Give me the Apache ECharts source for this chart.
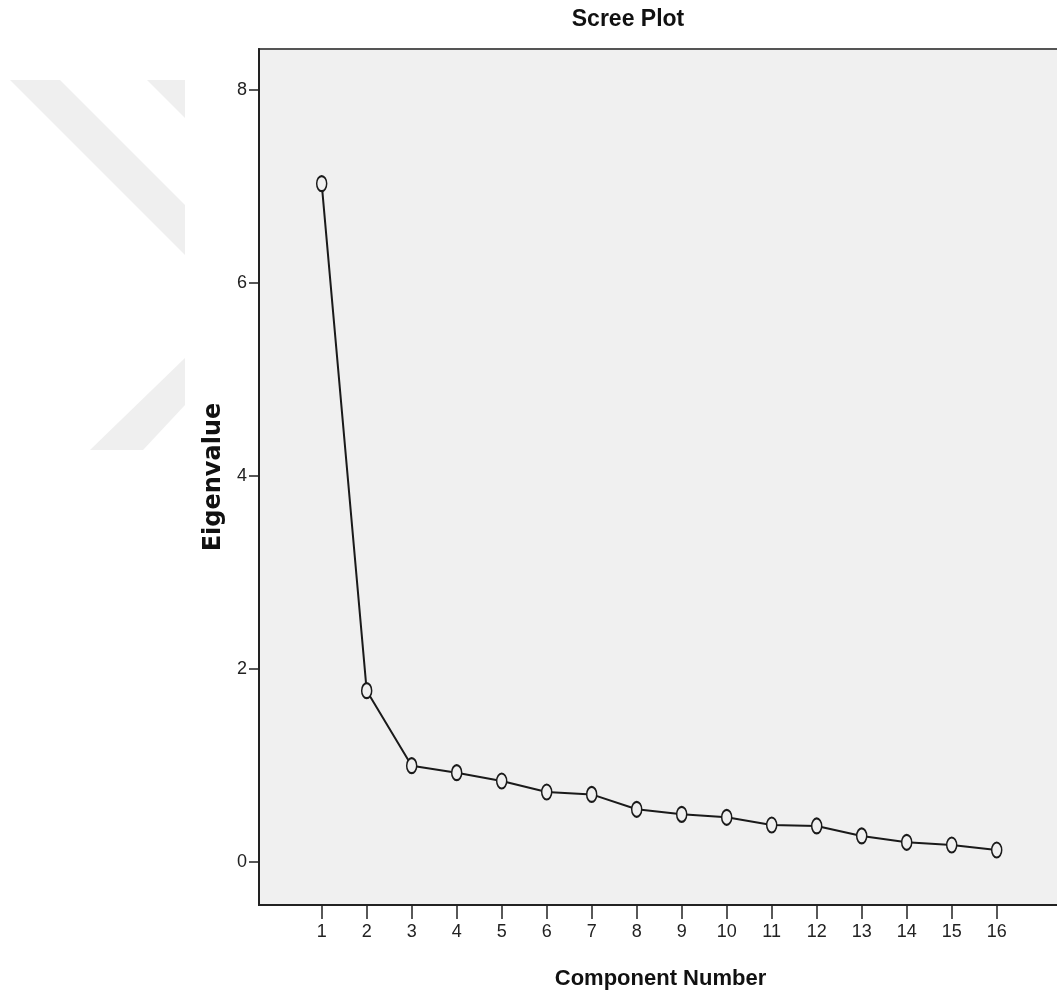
<!DOCTYPE html>
<html>
<head>
<meta charset="utf-8">
<title>Scree Plot</title>
<script src="https://cdn.jsdelivr.net/npm/echarts@6/dist/echarts.min.js"></script>
<style>
  html, body { margin: 0; padding: 0; background: #fff; }
  #chart { width: 1057px; height: 1003px; }
</style>
</head>
<body>
<div id="chart"></div>
<script>
// component numbers and eigenvalues
var components = [1, 2, 3, 4, 5, 6, 7, 8, 9, 10, 11, 12, 13, 14, 15, 16];
var eigenvalues = [7.03, 1.775, 0.998, 0.925, 0.839, 0.725, 0.70, 0.546, 0.494, 0.463, 0.383, 0.373, 0.27, 0.204, 0.176, 0.124];
var yTicks = [0, 2, 4, 6, 8];

var narrow = "'Liberation Sans Narrow', 'Arial Narrow', 'Liberation Sans', sans-serif";

var points = [];
for (var i = 0; i < components.length; i++) {
  points.push([components[i], eigenvalues[i]]);
}

var chart = echarts.init(document.getElementById('chart'), null, { renderer: 'canvas' });

var option = {
  backgroundColor: '#ffffff',
  animation: false,
  // faint watermark behind the plot
  graphic: [
    { type: 'polygon', z: -10, shape: { points: [[10, 80], [60, 80], [185, 205], [185, 255]] }, style: { fill: '#efefef' } },
    { type: 'polygon', z: -10, shape: { points: [[147, 80], [185, 80], [185, 118]] }, style: { fill: '#efefef' } },
    { type: 'polygon', z: -10, shape: { points: [[90, 450], [143, 450], [185, 405], [185, 358]] }, style: { fill: '#efefef' } }
  ],
  title: {
    text: 'Scree Plot',
    left: 628,
    top: 8,
    textAlign: 'center',
    padding: 0,
    textStyle: { fontFamily: narrow, fontWeight: 'bold', fontSize: 23, color: '#111' }
  },
  grid: {
    left: 259,
    top: 49,
    width: 803,
    height: 856,
    outerBoundsMode: 'none',
    show: true,
    backgroundColor: '#f0f0f0',
    borderColor: '#555',
    borderWidth: 2
  },
  xAxis: {
    type: 'value',
    min: -0.393,
    max: 17.451,
    name: 'Component Number',
    nameLocation: 'middle',
    nameGap: 63,
    nameTextStyle: { fontFamily: narrow, fontWeight: 'bold', fontSize: 22, color: '#111' },
    splitLine: { show: false },
    axisLine: { show: true, onZero: false, lineStyle: { color: '#222', width: 2 } },
    axisTick: { show: true, length: 14, customValues: components, lineStyle: { color: '#222', width: 1.5 } },
    axisLabel: { customValues: components, margin: 18, fontFamily: narrow, fontSize: 18, color: '#222' }
  },
  yAxis: {
    type: 'value',
    min: -0.446,
    max: 8.425,
    name: 'Eigenvalue',
    nameLocation: 'middle',
    nameGap: 32,
    nameRotate: 90,
    nameTextStyle: { fontFamily: "'DejaVu Sans', sans-serif", fontWeight: 'bold', fontSize: 24, color: '#111' },
    splitLine: { show: false },
    axisLine: { show: true, onZero: false, lineStyle: { color: '#222', width: 2 } },
    axisTick: { show: true, length: 10, customValues: yTicks, lineStyle: { color: '#222', width: 1.5 } },
    axisLabel: { customValues: yTicks, margin: 12, fontFamily: narrow, fontSize: 18, color: '#222' }
  },
  series: [
    {
      type: 'line',
      data: points,
      symbol: 'circle',
      symbolSize: [10, 15],
      showAllSymbol: true,
      lineStyle: { color: '#1a1a1a', width: 2 },
      itemStyle: { color: '#f0f0f0', borderColor: '#1a1a1a', borderWidth: 1.8 }
    }
  ]
};

chart.setOption(option);
</script>
</body>
</html>
